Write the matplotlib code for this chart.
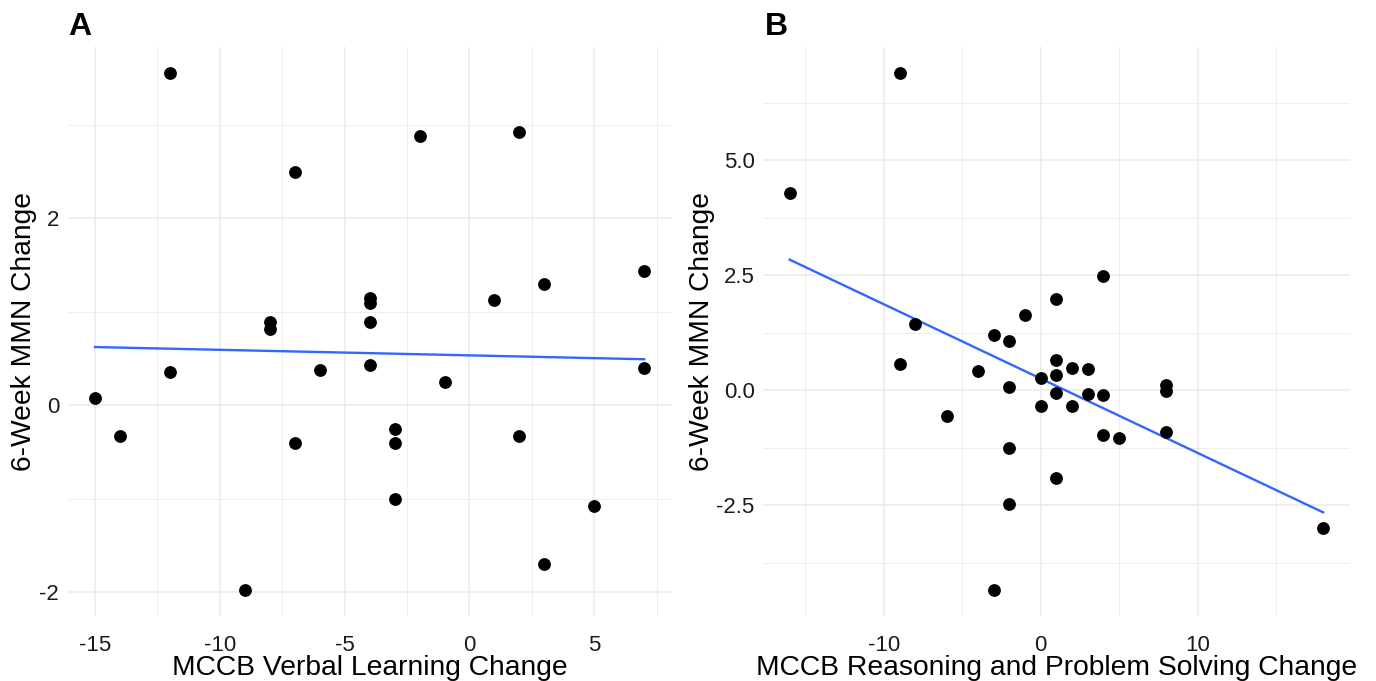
import numpy as np
import matplotlib
matplotlib.use('Agg')
from matplotlib import pyplot as plt

plt.rcParams['font.family'] = ['Liberation Sans', 'DejaVu Sans']
plt.rcParams['axes.unicode_minus'] = False

# panel A: verbal learning vs MMN change
verbal_x = [-12, -2, 2, -7, 7, 3, 1, -4, -4, -4, -8, -8, -4, -6, -12, 7, -1,
            -15, -14, -7, -3, -3, 2, -3, 5, 3, -9]
verbal_y = [3.56, 2.88, 2.92, 2.50, 1.44, 1.30, 1.13, 1.15, 1.09, 0.89, 0.89,
            0.81, 0.43, 0.38, 0.35, 0.40, 0.25, 0.08, -0.33, -0.41, -0.25,
            -0.41, -0.33, -1.00, -1.08, -1.70, -1.98]

# panel B: reasoning / problem solving vs MMN change
reason_x = [-9, -16, 4, 1, -1, -8, -3, -2, -9, -4, 1, 2, 3, 1, 0, -2, 8, 8, 1,
            3, 4, 0, 2, -6, 4, 5, 8, -2, 1, -2, -3, 18]
reason_y = [6.91, 4.30, 2.48, 1.99, 1.63, 1.45, 1.19, 1.07, 0.57, 0.42, 0.66,
            0.49, 0.47, 0.32, 0.26, 0.07, 0.12, -0.01, -0.07, -0.08, -0.11,
            -0.35, -0.34, -0.57, -0.98, -1.05, -0.90, -1.25, -1.91, -2.48,
            -4.35, -3.0]

a_xticks = [-15, -10, -5, 0, 5]
a_xlabels = ['-15', '-10', '-5', '0', '5']
a_yticks = [-2, 0, 2]
a_ylabels = ['-2', '0', '2']
b_xticks = [-10, 0, 10]
b_xlabels = ['-10', '0', '10']
b_yticks = [-2.5, 0.0, 2.5, 5.0]
b_ylabels = ['-2.5', '0.0', '2.5', '5.0']

fig = plt.figure(figsize=(13.76, 6.81), dpi=100)
W, H = 1376, 681
axA = fig.add_axes([67.5 / W, 1 - 616 / H, (671.7 - 67.5) / W, (616 - 46.7) / H])
axB = fig.add_axes([763 / W, 1 - 616 / H, (1349.8 - 763) / W, (616 - 46.7) / H])


def expand(v, frac=0.05):
    lo, hi = min(v), max(v)
    d = (hi - lo) * frac
    return lo - d, hi + d


def panel(ax, x, y, xt, xl, yt, yl, xlabel, ylab_x):
    x = np.array(x, dtype=float)
    y = np.array(y, dtype=float)
    ax.set_xticks(xt)
    ax.set_xticklabels(xl)
    ax.set_yticks(yt)
    ax.set_yticklabels(yl)
    # minor breaks halfway between majors, like ggplot
    xs = np.diff(xt)[0]
    ys = np.diff(yt)[0]
    ax.set_xticks(np.arange(xt[0] - xs / 2, xt[-1] + xs, xs), minor=True)
    ax.set_yticks(np.arange(yt[0] - ys / 2, yt[-1] + ys, ys), minor=True)
    # limits after ticks, so the tick lists don't widen the view
    ax.set_xlim(*expand(x))
    ax.set_ylim(*expand(y))
    ax.grid(which='major', color='#EBEBEB', linewidth=1.1)
    ax.grid(which='minor', color='#EBEBEB', linewidth=0.6)
    ax.set_axisbelow(True)
    for s in ax.spines.values():
        s.set_visible(False)
    ax.tick_params(which='both', length=0)
    ax.tick_params(axis='x', pad=14, labelsize=16, labelcolor='#1a1a1a')
    ax.tick_params(axis='y', pad=6, labelsize=16, labelcolor='#1a1a1a')

    ax.scatter(x, y, s=85, color='black', zorder=3, linewidths=0)
    k, b = np.polyfit(x, y, 1)
    xx = np.array([x.min(), x.max()])
    ax.plot(xx, k * xx + b, color='#3366FF', linewidth=1.7, zorder=2)

    ax.set_xlabel(xlabel, fontsize=20.3, color='black')
    ax.xaxis.set_label_coords(0.5, -0.068)
    ax.set_ylabel('6-Week MMN Change', fontsize=20.3, color='black')
    ax.yaxis.set_label_coords(ylab_x, 0.5)


panel(axA, verbal_x, verbal_y, a_xticks, a_xlabels, a_yticks, a_ylabels,
      'MCCB Verbal Learning Change', -0.05)
panel(axB, reason_x, reason_y, b_xticks, b_xlabels, b_yticks, b_ylabels,
      'MCCB Reasoning and Problem Solving Change', -0.082)

fig.text(68 / W, 1 - 35 / H, 'A', fontsize=23, fontweight='bold', va='baseline')
fig.text(765 / W, 1 - 35 / H, 'B', fontsize=23, fontweight='bold', va='baseline')

fig.savefig('out.png', dpi=100)
